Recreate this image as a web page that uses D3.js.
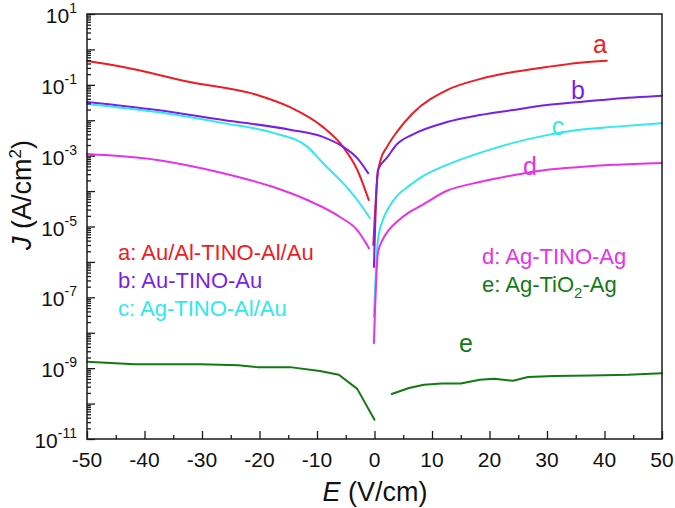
<!DOCTYPE html>
<html>
<head>
<meta charset="utf-8">
<script src="https://cdn.jsdelivr.net/npm/d3@7"></script>
<style>
  html, body { margin: 0; padding: 0; background: #fff; }
  svg { display: block; font-family: Arial, "Liberation Sans", sans-serif; }
</style>
</head>
<body>
<svg id="chart" width="675" height="508"></svg>
<script>
// ---------- data (E in V/cm, J in A/cm^2) ----------
const aNegE = [-50, -43.7, -32.1, -20.4, -14.7, -9.0, -5.5, -3.0, -1.0];
const aNegJ = [0.471, 0.319, 0.120, 0.0516, 0.0234, 6.5e-3, 1.8e-3, 4.0e-4, 5.6e-5];
const aPosE = [-0.2, 0.5, 1.0, 2.2, 3.9, 6.7, 12.6, 18.3, 24.1, 30, 35.7, 40.4];
const aPosJ = [3.0e-6, 2.5e-4, 7.1e-4, 1.8e-3, 4.7e-3, 1.6e-2, 7.1e-2, 0.145, 0.23, 0.32, 0.42, 0.48];

const bNegE = [-50, -37.8, -26.3, -14.7, -9.0, -5.5, -3.0, -1.1];
const bNegJ = [3.3e-2, 1.95e-2, 1.02e-2, 5.4e-3, 3.4e-3, 1.8e-3, 8.5e-4, 3.2e-4];
const bPosE = [-0.1, 0.6, 2.2, 3.9, 6.7, 12.6, 18.3, 24.1, 30, 35.7, 41.5, 50];
const bPosJ = [7.2e-7, 4.0e-4, 8.9e-4, 2.1e-3, 4.0e-3, 8.9e-3, 1.4e-2, 1.95e-2, 2.7e-2, 3.3e-2, 4.0e-2, 4.9e-2];

const cNegE = [-50, -37.8, -26.3, -17.6, -11.7, -9.0, -5.5, -3.0, -0.8];
const cNegJ = [2.9e-2, 1.7e-2, 8.3e-3, 4.4e-3, 1.8e-3, 6.2e-4, 1.7e-4, 5.6e-5, 1.74e-5];
const cPosE = [-0.1, 0.6, 1.5, 2.5, 4.0, 6.0, 8.0, 12.6, 18.3, 24.1, 30, 35.7, 41.5, 50];
const cPosJ = [2.8e-8, 4.2e-6, 1.6e-5, 3.5e-5, 7.6e-5, 1.4e-4, 2.4e-4, 5.5e-4, 1.2e-3, 2.3e-3, 3.8e-3, 5.4e-3, 6.5e-3, 8.3e-3];

const dNegE = [-50, -37.8, -26.3, -17.6, -11.7, -6.0, -3.0, -0.96];
const dNegJ = [1.12e-3, 7.6e-4, 3.2e-4, 1.3e-4, 5.6e-5, 1.86e-5, 7.9e-6, 2.45e-6];
const dPosE = [-0.1, 0.6, 1.5, 2.5, 4.0, 6.0, 8.0, 12.6, 18.3, 24.1, 30, 35.7, 41.5, 50];
const dPosJ = [5.1e-9, 1.8e-6, 4.5e-6, 8.0e-6, 1.4e-5, 2.5e-5, 3.8e-5, 1.02e-4, 1.8e-4, 2.8e-4, 4.0e-4, 4.8e-4, 5.5e-4, 6.2e-4];

const eNegE = [-50, -41.7, -30.2, -23.7, -20.4, -14.7, -9.5, -6.2, -3.0, 0.0];
const eNegJ = [1.51e-9, 1.29e-9, 1.29e-9, 1.2e-9, 1.07e-9, 1.07e-9, 8.3e-10, 6.5e-10, 2.6e-10, 3.5e-11];
const ePosE = [3.0, 6.0, 8.6, 11.7, 15.0, 18.3, 20.8, 24.1, 26.7, 31.2, 37.7, 44.1, 50];
const ePosJ = [1.86e-10, 2.75e-10, 3.4e-10, 3.7e-10, 3.7e-10, 4.7e-10, 5.0e-10, 4.4e-10, 5.6e-10, 6.0e-10, 6.2e-10, 6.5e-10, 7.2e-10];

const seriesKeys = ["a", "b", "c", "d", "e"];
const seriesColors = ["#ee1c24", "#7a1fe6", "#30e8f0", "#e633e6", "#137a13"];
const legendTexts = ["a: Au/Al-TINO-Al/Au", "b: Au-TINO-Au", "c: Ag-TINO-Al/Au", "d: Ag-TINO-Ag", "e: Ag-TiO|2|-Ag"];
const xTicks = [-50, -40, -30, -20, -10, 0, 10, 20, 30, 40, 50];
const yLabelExps = [1, -1, -3, -5, -7, -9, -11];

// ---------- layout ----------
const svg = d3.select("#chart");
const L = 87, R = 662, T = 14, B = 439;
const x = d3.scaleLinear().domain([-50, 50]).range([L, R]);
const y = d3.scaleLog().domain([1e-11, 1e1]).range([B, T]);

const branches = {
  a: [[aNegE, aNegJ], [aPosE, aPosJ]],
  b: [[bNegE, bNegJ], [bPosE, bPosJ]],
  c: [[cNegE, cNegJ], [cPosE, cPosJ]],
  d: [[dNegE, dNegJ], [dPosE, dPosJ]],
  e: [[eNegE, eNegJ], [ePosE, ePosJ]]
};

const smooth = d3.line().x(p => x(p[0])).y(p => y(p[1])).curve(d3.curveMonotoneX);
const straight = d3.line().x(p => x(p[0])).y(p => y(p[1])).curve(d3.curveLinear);

const gLines = svg.append("g");
seriesKeys.forEach((k, i) => {
  branches[k].forEach(([E, J]) => {
    const pts = E.map((v, j) => [v, J[j]]);
    gLines.append("path")
      .attr("d", (k === "e" ? straight : smooth)(pts))
      .attr("fill", "none")
      .attr("stroke", seriesColors[i])
      .attr("stroke-width", 2)
      .attr("stroke-linejoin", "round")
      .attr("stroke-linecap", "round");
  });
});

// ---------- axes ----------
const axisColor = "#1a1a1a";
const xAxis = d3.axisBottom(x).tickValues(d3.range(-50, 51, 5)).tickSizeInner(-4).tickSizeOuter(0).tickFormat("");
const gx = svg.append("g").attr("transform", `translate(0,${B})`).call(xAxis);
gx.selectAll(".tick line").attr("y2", d => (d % 10 === 0 ? -8 : -4)).attr("stroke", axisColor).attr("stroke-width", 1.3);
gx.select(".domain").remove();

svg.append("g").selectAll("text").data(xTicks).join("text")
  .attr("x", d => x(d)).attr("y", 467)
  .attr("text-anchor", "middle").attr("font-size", 21).attr("fill", "#111")
  .text(d => String(d));

const yTickVals = [];
for (let e = -11; e <= 1; e++) {
  for (let m = 1; m <= 9; m++) {
    const v = m * Math.pow(10, e);
    if (v <= 10.0001) yTickVals.push(v);
  }
}
const yAxis = d3.axisLeft(y).tickValues(yTickVals).tickSizeInner(-4).tickSizeOuter(0).tickFormat("");
const gy = svg.append("g").attr("transform", `translate(${L},0)`).call(yAxis);
gy.selectAll(".tick line")
  .attr("x2", d => {
    const lg = Math.log10(d);
    return Math.abs(lg - Math.round(lg)) < 1e-6 ? 8 : 4;
  })
  .attr("stroke", axisColor).attr("stroke-width", 1.3);
gy.select(".domain").remove();

const yl = svg.append("g").selectAll("text").data(yLabelExps).join("text")
  .attr("x", 77).attr("y", d => y(Math.pow(10, d)) + 9)
  .attr("text-anchor", "end").attr("font-size", 21).attr("fill", "#111");
yl.append("tspan").text("10");
yl.append("tspan").attr("dy", -10).attr("font-size", 14).text(d => String(d));

svg.append("rect").attr("x", L).attr("y", T).attr("width", R - L).attr("height", B - T)
  .attr("fill", "none").attr("stroke", axisColor).attr("stroke-width", 1.5);

// axis titles
const xt = svg.append("text").attr("x", 375).attr("y", 501).attr("text-anchor", "middle")
  .attr("font-size", 27).attr("fill", "#111");
xt.append("tspan").attr("font-style", "italic").text("E");
xt.append("tspan").text(" (V/cm)");

const yt = svg.append("text").attr("transform", "translate(31,195) rotate(-90)")
  .attr("text-anchor", "middle").attr("font-size", 27).attr("fill", "#111");
yt.append("tspan").attr("font-style", "italic").text("J");
yt.append("tspan").text(" (A/cm");
yt.append("tspan").attr("dy", -10).attr("font-size", 17).text("2");
yt.append("tspan").attr("dy", 10).text(")");

// legend
const legendPos = [[118, 260], [118, 288], [118, 316], [482, 264], [482, 292]];
legendTexts.forEach((t, i) => {
  const tx = svg.append("text").attr("x", legendPos[i][0]).attr("y", legendPos[i][1])
    .attr("font-size", 22).attr("fill", seriesColors[i]);
  const parts = t.split("|");
  tx.append("tspan").text(parts[0]);
  if (parts.length > 1) {
    tx.append("tspan").attr("dy", 6).attr("font-size", 15).text(parts[1]);
    tx.append("tspan").attr("dy", -6).text(parts[2]);
  }
});

// curve labels
const curveLabelPos = [[600, 53], [578, 99], [558, 135], [530, 175], [466, 352]];
seriesKeys.forEach((k, i) => {
  svg.append("text").attr("x", curveLabelPos[i][0]).attr("y", curveLabelPos[i][1])
    .attr("text-anchor", "middle").attr("font-size", 25).attr("fill", seriesColors[i]).text(k);
});
</script>
</body>
</html>
